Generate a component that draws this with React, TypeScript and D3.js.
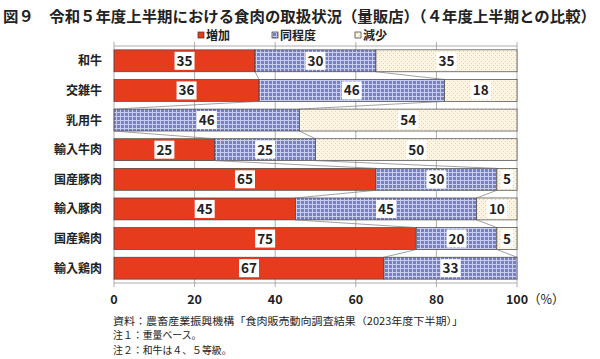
import React from "react";
import * as d3 from "d3";

const categories = ["和牛", "交雑牛", "乳用牛", "輸入牛肉", "国産豚肉", "輸入豚肉", "国産鶏肉", "輸入鶏肉"];
const seriesNames = ["増加", "同程度", "減少"];
const increase = [35, 36, 0, 25, 65, 45, 75, 67];
const same = [30, 46, 46, 25, 30, 45, 20, 33];
const decrease = [35, 18, 54, 50, 5, 10, 5, 0];
const xTicks = [0, 20, 40, 60, 80, 100];
const title = "図９　令和５年度上半期における食肉の取扱状況（量販店）（４年度上半期との比較）";
const notes = [
  "資料：農畜産業振興機構「食肉販売動向調査結果（2023年度下半期）」",
  "注１：重量ベース。",
  "注２：和牛は４、５等級。",
];

const FONT = "'Noto Sans CJK JP', 'Noto Sans', sans-serif";

export default function App() {
  const W = 600, H = 359;
  const x = d3.scaleLinear().domain([0, 100]).range([114, 517]);
  const y = d3.scaleBand<string>().domain(categories).range([46, 283]).paddingInner(0.26).paddingOuter(0.13);
  const bw = y.bandwidth();

  const rows = categories.map((c, i) => ({ c, vals: [increase[i], same[i], decrease[i]] }));
  const stackData = rows.map((r) => {
    let acc = 0;
    return r.vals.map((v, k) => {
      const s = acc;
      acc += v;
      return { k, v, x0: s, x1: acc };
    });
  });
  const fills = ["#E63B1D", "url(#blueP)", "url(#beigeP)"];

  // connector lines
  const connectors: { x1: number; y1: number; x2: number; y2: number }[] = [];
  for (let i = 0; i < categories.length - 1; i++) {
    for (let k = 0; k < 2; k++) {
      const a = stackData[i][k].x1;
      const b = stackData[i + 1][k].x1;
      if (a >= 100 && b >= 100) continue;
      connectors.push({
        x1: x(a),
        y1: (y(categories[i]) as number) + bw,
        x2: x(b),
        y2: y(categories[i + 1]) as number,
      });
    }
  }

  const legendX = [198, 272, 355];
  const top = 46, bottom = 283;

  return (
    <svg width={W} height={H} style={{ position: "absolute", left: 0, top: 0, background: "#fff" }} fontFamily={FONT}>
      <defs>
        <pattern id="blueP" patternUnits="userSpaceOnUse" width="4" height="4">
          <rect width="4" height="4" fill="#7580C6" />
          <rect x="0" y="0" width="4" height="1" fill="#C9CEF0" />
          <rect x="0" y="0" width="1" height="4" fill="#C9CEF0" />
        </pattern>
        <pattern id="beigeP" patternUnits="userSpaceOnUse" width="4" height="4">
          <rect width="4" height="4" fill="#FEF4E2" />
          <rect x="1" y="1" width="1" height="1" fill="#F2C9A0" />
          <rect x="3" y="3" width="1" height="1" fill="#F2C9A0" />
        </pattern>
      </defs>

      <text x={3} y={22} fontSize={15.2} fontWeight="bold" fill="#222" textLength={593} lengthAdjust="spacingAndGlyphs">
        {title}
      </text>

      {seriesNames.map((n, k) => (
        <g key={n}>
          <rect x={legendX[k]} y={32} width={6} height={6} fill={fills[k]} stroke="#333" strokeWidth={0.7} />
          <text x={legendX[k] + 8} y={39.5} fontSize={12} fontWeight="bold" fill="#222">
            {n}
          </text>
        </g>
      ))}

      {/* gridlines */}
      {xTicks.map((t) => (
        <line key={"g" + t} x1={x(t)} x2={x(t)} y1={top - 4} y2={bottom + 4} stroke="#999" strokeWidth={0.8} />
      ))}
      <line x1={x(0)} x2={x(100)} y1={top} y2={top} stroke="#999" strokeWidth={0.8} />
      <line x1={x(0)} x2={x(100)} y1={bottom} y2={bottom} stroke="#999" strokeWidth={0.8} />

      {/* bars */}
      {rows.map((r, i) =>
        stackData[i].map((s) =>
          s.v > 0 ? (
            <rect
              key={r.c + s.k}
              x={x(s.x0)}
              y={y(r.c)}
              width={x(s.x1) - x(s.x0)}
              height={bw}
              fill={fills[s.k]}
              stroke="#444"
              strokeWidth={0.7}
            />
          ) : null
        )
      )}

      {connectors.map((c, i) => (
        <line key={"c" + i} x1={c.x1} y1={c.y1} x2={c.x2} y2={c.y2} stroke="#777" strokeWidth={0.7} />
      ))}

      {/* value labels */}
      {rows.map((r, i) =>
        stackData[i].map((s) => {
          if (s.v <= 0) return null;
          const cx = x((s.x0 + s.x1) / 2);
          const cy = (y(r.c) as number) + bw / 2;
          const w = String(s.v).length * 8 + 4;
          return (
            <g key={"l" + r.c + s.k}>
              <rect x={cx - w / 2} y={cy - 9} width={w} height={18} fill="#fff" />
              <text x={cx} y={cy + 5} textAnchor="middle" fontSize={13.5} fontWeight="bold" fill="#222">
                {s.v}
              </text>
            </g>
          );
        })
      )}

      {/* category labels */}
      {categories.map((c) => (
        <text key={"cat" + c} x={102} y={(y(c) as number) + bw / 2 + 4.5} textAnchor="end" fontSize={12} fontWeight="bold" fill="#222">
          {c}
        </text>
      ))}

      {/* x tick labels */}
      {xTicks.map((t) => (
        <text key={"t" + t} x={x(t)} y={303.5} textAnchor="middle" fontSize={12.5} fontWeight="bold" fill="#222">
          {t}
        </text>
      ))}
      <text x={x(100) + 11} y={303.5} fontSize={12.5} fill="#222">（%）</text>

      {notes.map((n, i) => (
        <text
          key={"n" + i}
          x={113}
          y={324.5 + i * 14.5}
          fontSize={9.9}
          fill="#222"
          {...(i === 0 ? { textLength: 350, lengthAdjust: "spacingAndGlyphs" } : {})}
        >
          {n}
        </text>
      ))}
    </svg>
  );
}
